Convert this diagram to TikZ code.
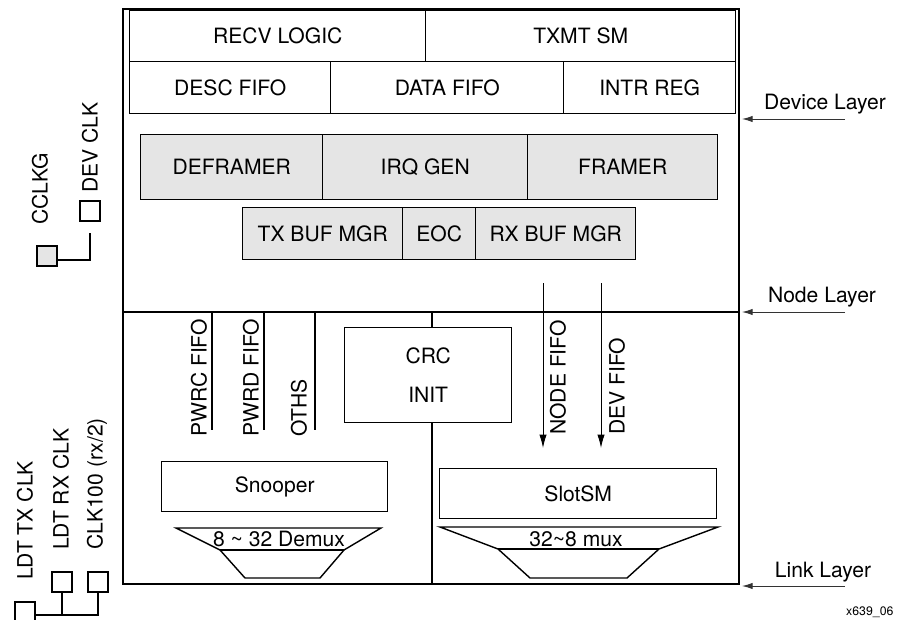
\documentclass[tikz,border=0pt]{standalone}
\usepackage{fontspec}
\setmainfont{TeX Gyre Heros}
\usetikzlibrary{arrows.meta}

\begin{document}
\begin{tikzpicture}[x=0.03cm,y=-0.03cm,
    font=\fontsize{18}{21}\selectfont,
    sz/.style 2 args={minimum width=#1*0.03cm,minimum height=#2*0.03cm},
    blk/.style={draw,line width=1.2pt,inner sep=0pt,anchor=north west},
    gblk/.style={blk,fill=gray!20},
    vlbl/.style={rotate=90,anchor=west,inner sep=0pt},
    pin/.style={draw,line width=1pt,sz={20}{20},inner sep=0pt},
    fifo/.style={-{Latex[length=4mm,width=2.2mm]},line width=0.8pt},
    layer/.style={-{Latex[length=3.2mm,width=1.9mm]},line width=0.8pt,black!80}]
    \useasboundingbox (0,0) rectangle (897,620);

    % outer frame and layer borders
    \draw[line width=2pt] (123,9) rectangle (739,584);
    \draw[line width=2pt] (123,312) -- (739,312);
    \draw[line width=2pt] (432,312) -- (432,584);

    % device layer
    \node[blk,sz={296}{51}] (recv) at (129,10) {RECV LOGIC};
    \node[blk,sz={310}{51}] (txmt) at (425,10) {TXMT SM};
    \node[blk,sz={201}{52}] (desc) at (129,61) {DESC FIFO};
    \node[blk,sz={233}{52}] (data) at (330,61) {DATA FIFO};
    \node[blk,sz={172}{52}] (intr) at (563,61) {INTR REG};

    % node layer
    \node[gblk,sz={182}{65}] (defr) at (140,134) {DEFRAMER};
    \node[gblk,sz={205}{65}] (irq) at (322,134) {IRQ GEN};
    \node[gblk,sz={190}{65}] (framer) at (527,134) {FRAMER};
    \node[gblk,sz={160}{52}] (txbuf) at (242,207) {TX BUF MGR};
    \node[gblk,sz={73}{52}] (eoc) at (402,207) {EOC};
    \node[gblk,sz={160}{52}] (rxbuf) at (475,207) {RX BUF MGR};

    % link layer, snooper side
    \coordinate (pwrc) at (212,312);
    \coordinate (pwrd) at (264,312);
    \coordinate (oths) at (315,312);
    \draw[line width=2pt] (pwrc) -- ++(0,118);
    \draw[line width=2pt] (pwrd) -- ++(0,118);
    \draw[line width=2pt] (oths) -- ++(0,118);
    \node[vlbl] (pwrcl) at (199,437) {PWRC FIFO};
    \node[vlbl] (pwrdl) at (251,437) {PWRD FIFO};
    \node[vlbl] (othsl) at (299,437) {OTHS};

    \node[blk,fill=white,sz={167}{95},align=center,
          font=\fontsize{18}{34}\selectfont] (crc) at (344,327) {CRC\\INIT};

    \node[blk,sz={226}{50}] (snoop) at (161,461) {Snooper};
    \draw[line width=1.2pt] (176,528) -- (381,528) -- (344,550) -- (320,578)
        -- (245,578) -- (220,550) -- cycle;
    \draw[line width=1.2pt] (220,550) -- (344,550);
    \node (demux) at (279,539) {8 \textasciitilde{} 32 Demux};

    % link layer, slot side
    \coordinate (nodetop) at (543,283);
    \coordinate (nodeend) at (543,448);
    \coordinate (devtop) at (601,283);
    \coordinate (devend) at (601,448);
    \draw[fifo] (nodetop) -- (nodeend);
    \draw[fifo] (devtop) -- (devend);
    \node[vlbl] (nodel) at (558,435) {NODE FIFO};
    \node[vlbl] (devl) at (617,435) {DEV FIFO};

    \node[blk,sz={277}{50}] (slot) at (439,468) {SlotSM};
    \draw[line width=1.2pt] (440,527) -- (718,527) -- (659,549) -- (627,578)
        -- (530,578) -- (498,549) -- cycle;
    \draw[line width=1.2pt] (498,549) -- (659,549);
    \node (mux) at (576,539) {32\textasciitilde 8 mux};

    % layer pointers
    \coordinate (devtail) at (845,119);
    \coordinate (devtip) at (742,119);
    \coordinate (nodtail) at (845,312);
    \coordinate (nodtip) at (742,312);
    \coordinate (lnktail) at (845,586);
    \coordinate (lnktip) at (742,586);
    \draw[layer] (devtail) -- (devtip);
    \draw[layer] (nodtail) -- (nodtip);
    \draw[layer] (lnktail) -- (lnktip);
    \node (devlay) at (825,104) {Device Layer};
    \node (nodlay) at (822,297) {Node Layer};
    \node (lnklay) at (823,572) {Link Layer};

    % clock pins
    \node[pin,fill=gray!20] (cclkg) at (47,256) {};
    \node[pin] (devclk) at (90,211) {};
    \node[vlbl] (cclkgl) at (40,225) {CCLKG};
    \node[vlbl] (devclkl) at (90,193) {DEV CLK};
    \draw[line width=1pt] ([yshift=-1.2mm]cclkg.east) -| ([yshift=-3.3mm]devclk.south);

    \node[pin] (ldttx) at (25,612) {};
    \node[pin] (ldtrx) at (62,582) {};
    \node[pin] (clk100) at (98,582) {};
    \node[vlbl] (ldttxl) at (25,580) {LDT TX CLK};
    \node[vlbl] (ldtrxl) at (61,550) {LDT RX CLK};
    \node[vlbl] (clk100l) at (97,550) {CLK100 (rx/2)};
    \draw[line width=1pt] ([yshift=-0.9mm]ldttx.east) -| (clk100.south);
    \draw[line width=1pt] (ldtrx.south) -- ++(0,23);

    \node[anchor=west,inner sep=0pt,font=\fontsize{10.5}{12}\selectfont] (figid) at (846,612) {x639\_06};
\end{tikzpicture}
\end{document}
